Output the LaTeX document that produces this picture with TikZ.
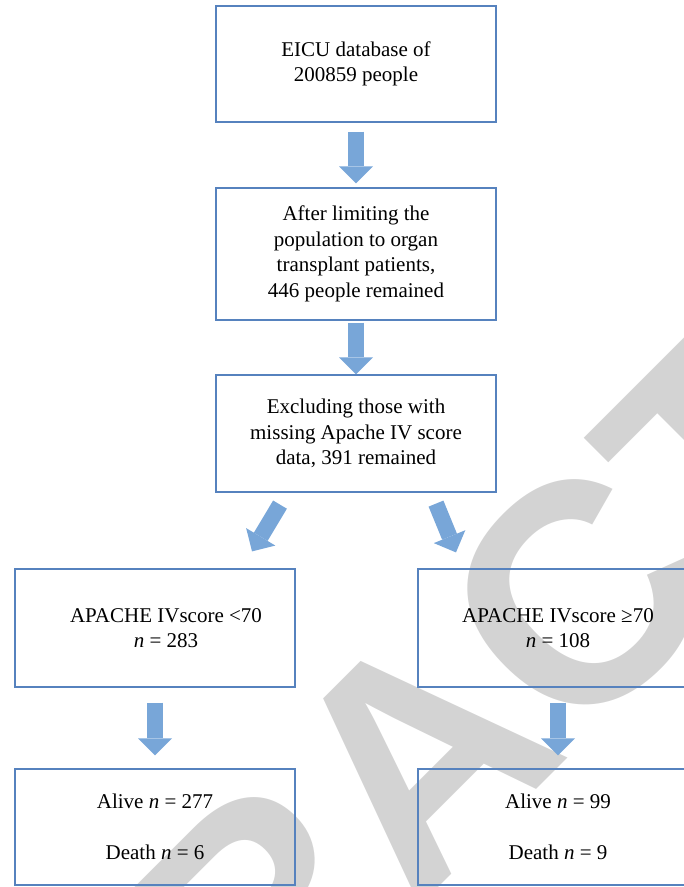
\documentclass[tikz,border=0pt]{standalone}
\usepackage{fontspec}
\setmainfont{Liberation Serif}
\newfontfamily\stampfont{Liberation Sans}
\usetikzlibrary{arrows.meta}
\definecolor{boxblue}{RGB}{86,130,190}
\definecolor{arrowblue}{RGB}{120,166,216}
\definecolor{stampgray}{RGB}{211,211,211}

\begin{document}
\begin{tikzpicture}
[x=1pt,y=-1pt,
every node/.style={font=\fontsize{21}{25.5}\selectfont,align=center,inner sep=0pt},
flowbox/.style={draw=boxblue,line width=1.2pt,minimum width=280pt},
bigarrow/.style={arrowblue,line width=16pt,-{Triangle[length=17pt 0 0,width=34pt 0 0,line width=0pt 0 0]}}]
\useasboundingbox (0,0) rectangle (684,887);
\clip (0,0) rectangle (684,887);
\node[stampgray,anchor=base west,rotate=45,font=\stampfont\bfseries\fontsize{312}{312}\selectfont] (stamp) at (-186,1512) {RETRACTED};
\node[flowbox,minimum height=116pt] (eicu) at (356,64) {EICU database of\\200859 people};
\node[flowbox,minimum height=132pt] (organ) at (356,254) {After limiting the\\population to organ\\transplant patients,\\446 people remained};
\node[flowbox,minimum height=117pt] (apache) at (356,433.5) {Excluding those with\\missing Apache IV score\\data, 391 remained};
\node[flowbox,minimum height=118pt] (low) at (155,628) {\hspace*{22pt}APACHE IVscore <70\\\hspace*{22pt}\textit{n} = 283};
\node[flowbox,minimum height=118pt] (high) at (558,628) {APACHE IVscore ≥70\\\textit{n} = 108};
\node[flowbox,minimum height=116pt] (lowout) at (155,827) {Alive \textit{n} = 277\\[25pt]Death \textit{n} = 6};
\node[flowbox,minimum height=116pt] (highout) at (558,827) {Alive \textit{n} = 99\\[25pt]Death \textit{n} = 9};
\draw[bigarrow] ([yshift=-9pt]eicu.south) -- ([yshift=4pt]organ.north);
\draw[bigarrow] ([yshift=-2pt]organ.south) -- (apache.north);
\draw[bigarrow] ([shift={(-76,12)}]apache.south) -- ([shift={(97,-17)}]low.north);
\draw[bigarrow] ([shift={(80,11)}]apache.south) -- ([shift={(-102,-16)}]high.north);
\draw[bigarrow] ([yshift=-15pt]low.south) -- ([yshift=13pt]lowout.north);
\draw[bigarrow] ([yshift=-15pt]high.south) -- ([yshift=13pt]highout.north);
\end{tikzpicture}
\end{document}
